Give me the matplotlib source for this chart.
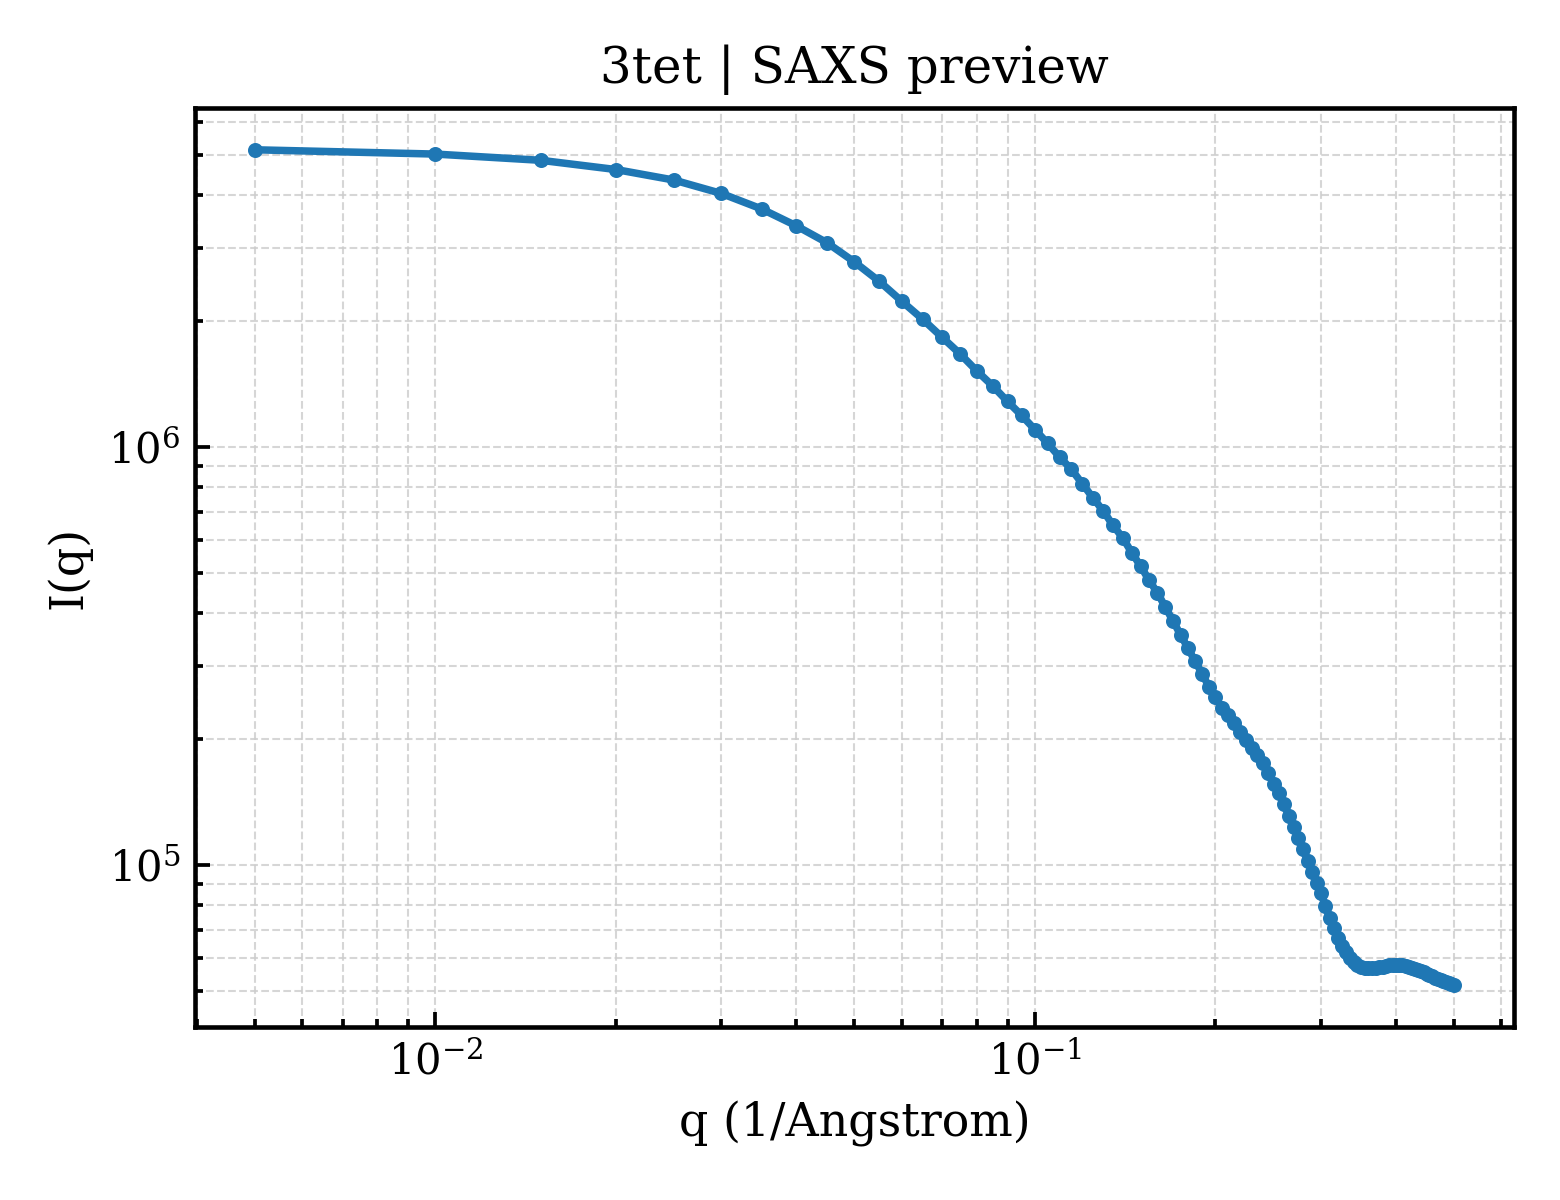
import numpy as np
import matplotlib
matplotlib.use("Agg")
import matplotlib.pyplot as plt

plt.rcParams['font.family'] = 'DejaVu Serif'
plt.rcParams['mathtext.fontset'] = 'dejavuserif'

# q grid: 0.005 .. 0.5 step 0.005
q = np.round(np.arange(1, 101) * 0.005, 3)

# I(q)
intensity = [
    5.14e6, 5.02e6, 4.85e6, 4.61e6, 4.35e6, 4.04e6, 3.71e6, 3.38e6, 3.08e6, 2.77e6,
    2.49e6, 2.23e6, 2.02e6, 1.83e6, 1.67e6, 1.52e6, 1.40e6, 1.285e6, 1.19e6, 1.10e6,
    1.02e6, 9.45e5, 8.84e5, 8.16e5, 7.55e5, 7.03e5, 6.49e5, 6.07e5, 5.59e5, 5.19e5,
    4.80e5, 4.48e5, 4.14e5, 3.83e5, 3.55e5, 3.30e5, 3.07e5, 2.87e5, 2.67e5, 2.52e5,
    2.37e5, 2.28e5, 2.18e5, 2.08e5, 1.99e5, 1.90e5, 1.83e5, 1.75e5, 1.66e5, 1.56e5,
    1.49e5, 1.40e5, 1.31e5, 1.23e5, 1.16e5, 1.09e5, 1.02e5, 9.6e4, 9.05e4, 8.55e4,
    7.98e4, 7.45e4, 7.05e4, 6.67e4, 6.40e4, 6.18e4, 6.00e4, 5.85e4, 5.75e4, 5.69e4,
    5.67e4, 5.66e4, 5.66e4, 5.67e4, 5.69e4, 5.71e4, 5.73e4, 5.75e4, 5.76e4, 5.76e4,
    5.76e4, 5.75e4, 5.73e4, 5.71e4, 5.68e4, 5.65e4, 5.61e4, 5.57e4, 5.53e4, 5.49e4,
    5.45e4, 5.41e4, 5.37e4, 5.33e4, 5.30e4, 5.27e4, 5.24e4, 5.21e4, 5.18e4, 5.15e4,
]

fig, ax = plt.subplots(figsize=(5.2, 4), dpi=300)
ax.plot(q, intensity, 'o-', color='#1f77b4', lw=1.8, ms=2.6)
ax.set_xscale('log')
ax.set_yscale('log')

ax.set_title('3tet | SAXS preview', fontsize=12)
ax.set_xlabel('q (1/Angstrom)', fontsize=11)
ax.set_ylabel('I(q)', fontsize=11)

ax.grid(True, which='both', ls='--', lw=0.5, color='#cccccc', alpha=0.8)
ax.tick_params(which='both', direction='in', labelsize=10, width=0.9)
ax.tick_params(which='major', length=3.5)
ax.tick_params(which='minor', length=2)
for s in ax.spines.values():
    s.set_linewidth(1.1)

fig.subplots_adjust(left=0.125, right=0.9705, top=0.91, bottom=0.144)
fig.savefig('out.png', dpi=300)
